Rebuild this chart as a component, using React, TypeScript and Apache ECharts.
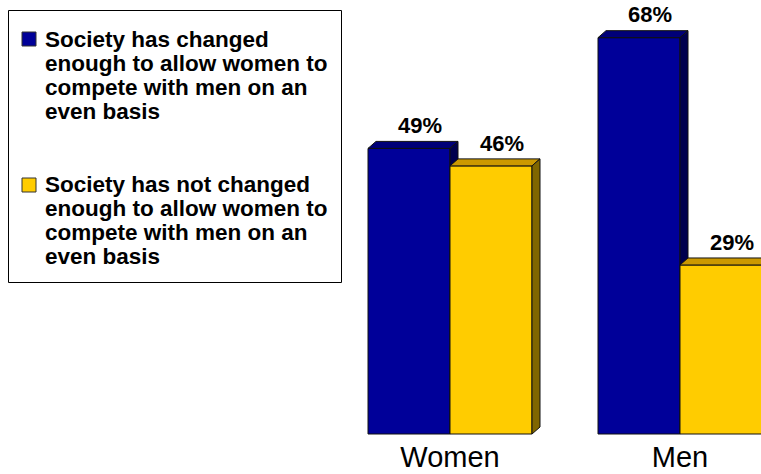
import React, { useEffect, useRef } from "react";
import * as echarts from "echarts";

const categories = ["Women", "Men"];
const seriesNames = [
  "Society has changed enough to allow women to compete with men on an even basis",
  "Society has not changed enough to allow women to compete with men on an even basis",
];
const legendLines = [
  ["Society has changed", "enough to allow women to", "compete with men on an", "even basis"],
  ["Society has not changed", "enough to allow women to", "compete with men on an", "even basis"],
];
const changedValues = [49, 68];
const notChangedValues = [46, 29];

const FONT = '"Liberation Sans", Arial, Helvetica, sans-serif';
const palettes = [
  { front: "#000099", top: "#000078", side: "#00004E" },
  { front: "#FFCC00", top: "#CC9900", side: "#806600" },
];
const BAR_FRAC = 82 / 230;
const DX = 8;
const DY = -7;

function makeRender(sIdx: number) {
  return (params: any, api: any) => {
    const idx = api.value(0);
    const v = api.value(1);
    const base = api.coord([idx, 0]);
    const topPt = api.coord([idx, v]);
    const band = api.size([1, 0])[0];
    const w = band * BAR_FRAC;
    const x0 = base[0] - w + sIdx * w;
    const x1 = x0 + w;
    const yT = topPt[1];
    const yB = base[1];
    const p = palettes[sIdx];
    const edge = { stroke: "#111", lineWidth: 1 };
    return {
      type: "group",
      children: [
        {
          type: "rect",
          shape: { x: x0, y: yT, width: w, height: yB - yT },
          style: { fill: p.front, ...edge },
        },
        {
          type: "polygon",
          shape: { points: [[x0, yT], [x0 + DX, yT + DY], [x1 + DX, yT + DY], [x1, yT]] },
          style: { fill: p.top, ...edge },
        },
        {
          type: "polygon",
          shape: { points: [[x1, yT], [x1 + DX, yT + DY], [x1 + DX, yB + DY], [x1, yB]] },
          style: { fill: p.side, ...edge },
        },
        {
          type: "text",
          style: {
            text: v + "%",
            x: (x0 + x1) / 2 + 11,
            y: yT + DY - 15.7,
            fill: "#000",
            font: "bold 22px " + FONT,
            textAlign: "center",
            textVerticalAlign: "middle",
            align: "center",
            verticalAlign: "middle",
          },
        },
      ],
    };
  };
}

export default function App() {
  const ref = useRef<HTMLDivElement>(null);
  useEffect(() => {
    if (!ref.current) return;
    const chart = echarts.init(ref.current, undefined, { renderer: "svg" });
    const legendGraphics: any[] = [
      {
        type: "rect",
        shape: { x: 8.5, y: 10.5, width: 333, height: 272 },
        style: { fill: "#fff", stroke: "#000", lineWidth: 1 },
        z: 0,
      },
    ];
    const itemTops = [32, 178];
    const textTops = [27.9, 172.4];
    legendLines.forEach((lines, i) => {
      legendGraphics.push({
        type: "rect",
        shape: { x: 22, y: itemTops[i], width: 14, height: 14 },
        style: { fill: palettes[i].front, stroke: "#333", lineWidth: 1 },
        z: 1,
      });
      legendGraphics.push({
        type: "text",
        x: 45,
        y: textTops[i],
        style: {
          text: lines.join("\n"),
          fill: "#000",
          font: "bold 22.5px " + FONT,
          lineHeight: 24,
          align: "left",
          verticalAlign: "top",
        },
        z: 1,
      });
    });
    chart.setOption({
      animation: false,
      grid: { left: 335, width: 460, top: 26, height: 408, outerBoundsMode: "none", containLabel: false },
      xAxis: {
        type: "category",
        data: categories,
        axisLine: { show: false },
        axisTick: { show: false },
        axisLabel: { fontSize: 29, lineHeight: 24, color: "#000", margin: 11, fontFamily: FONT },
      },
      yAxis: { type: "value", min: 0, max: 70, show: false, splitLine: { show: false } },
      graphic: legendGraphics,
      series: [
        {
          name: seriesNames[0],
          type: "custom",
          renderItem: makeRender(0),
          data: changedValues.map((v, i) => [i, v]),
          encode: { x: 0, y: 1 },
        },
        {
          name: seriesNames[1],
          type: "custom",
          renderItem: makeRender(1),
          data: notChangedValues.map((v, i) => [i, v]),
          encode: { x: 0, y: 1 },
        },
      ],
    });
    return () => chart.dispose();
  }, []);
  return (
    <div
      ref={ref}
      style={{ position: "absolute", left: 0, top: 0, width: 761, height: 474 }}
    />
  );
}
